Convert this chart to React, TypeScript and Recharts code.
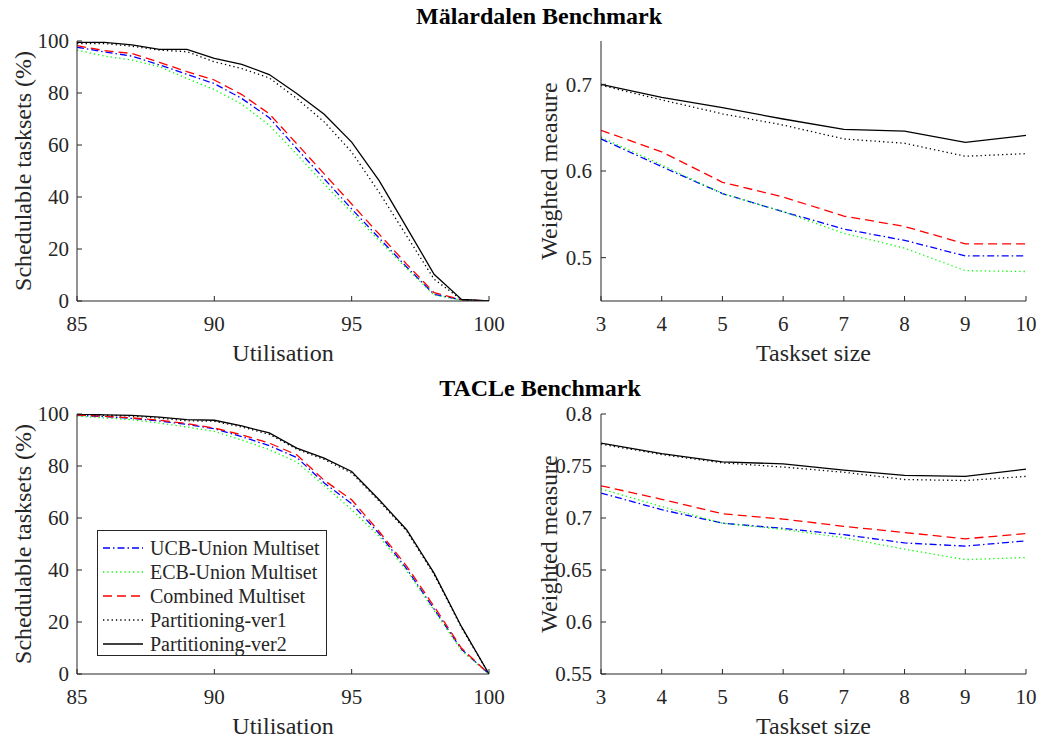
import React from 'react';
import { LineChart, Line, XAxis, YAxis, Legend, Label } from 'recharts';

const FONT = '"Liberation Serif", "Times New Roman", serif';
const INK = '#262626';

// x values
const utilisation = [85, 86, 87, 88, 89, 90, 91, 92, 93, 94, 95, 96, 97, 98, 99, 100];
const tasksetSize = [3, 4, 5, 6, 7, 8, 9, 10];

// Mälardalen - schedulable tasksets (%) vs utilisation
const malUtilUcb = [97.6, 95.8, 94.2, 90.8, 87.2, 83.6, 77.9, 70.5, 58.6, 47, 35.4, 24.2, 13.1, 2.6, 0.4, 0];
const malUtilEcb = [96.5, 94.2, 92.7, 90.1, 85.6, 81.3, 75.7, 67.6, 56.4, 45, 34.1, 23.2, 12.6, 2.3, 0.3, 0];
const malUtilComb = [98.2, 96.3, 95.2, 91.8, 88.2, 85, 79.4, 72, 60.5, 48.9, 37.3, 25.7, 14.2, 3.2, 0.5, 0];
const malUtilPart1 = [99, 99, 98, 96.5, 95.9, 92, 89.4, 85.8, 77.9, 68.9, 57.3, 41.8, 25.1, 8.4, 0.5, 0];
const malUtilPart2 = [99.5, 99.5, 98.5, 96.8, 96.8, 93.3, 91, 87.1, 79.8, 71.8, 61.1, 46.3, 28.3, 10.3, 0.6, 0];

// Mälardalen - weighted measure vs taskset size
const malSizeUcb = [0.637, 0.605, 0.574, 0.553, 0.533, 0.52, 0.502, 0.502];
const malSizeEcb = [0.639, 0.607, 0.574, 0.553, 0.528, 0.511, 0.485, 0.484];
const malSizeComb = [0.647, 0.622, 0.587, 0.57, 0.548, 0.536, 0.516, 0.516];
const malSizePart1 = [0.699, 0.682, 0.666, 0.653, 0.637, 0.632, 0.617, 0.62];
const malSizePart2 = [0.7, 0.685, 0.673, 0.66, 0.648, 0.646, 0.633, 0.641];

// TACLe - schedulable tasksets (%) vs utilisation
const tacUtilUcb = [99.5, 99, 98.3, 97.3, 96, 94.3, 91.3, 87.8, 83.3, 73.5, 65.5, 54, 40.5, 25, 9.5, 0];
const tacUtilEcb = [99.2, 98.5, 97.8, 96.5, 95, 93.3, 90, 86.3, 81.5, 72.5, 63.2, 53, 39.8, 24.5, 9, 0];
const tacUtilComb = [99.6, 99.1, 98.5, 97.6, 96.3, 94.6, 92, 88.8, 84.3, 74.5, 67, 54.8, 41.5, 26, 9.9, 0];
const tacUtilPart1 = [100, 99.5, 99.2, 98.4, 97.4, 97.2, 95, 92.2, 86.5, 82.5, 77.3, 66.5, 55, 38.3, 17.8, 0];
const tacUtilPart2 = [100, 99.7, 99.5, 98.8, 97.8, 97.6, 95.4, 92.7, 86.9, 83, 77.9, 67, 55.5, 38.8, 18.2, 0];

// TACLe - weighted measure vs taskset size
const tacSizeUcb = [0.724, 0.708, 0.695, 0.69, 0.684, 0.676, 0.673, 0.678];
const tacSizeEcb = [0.728, 0.711, 0.695, 0.689, 0.681, 0.67, 0.66, 0.662];
const tacSizeComb = [0.731, 0.718, 0.704, 0.699, 0.692, 0.686, 0.68, 0.685];
const tacSizePart1 = [0.771, 0.761, 0.753, 0.749, 0.744, 0.737, 0.736, 0.74];
const tacSizePart2 = [0.772, 0.762, 0.754, 0.752, 0.746, 0.741, 0.74, 0.747];

const utilTicks = [85, 90, 95, 100];
const pctTicks = [0, 20, 40, 60, 80, 100];
const malMeasureTicks = [0.5, 0.6, 0.7];
const tacMeasureTicks = [0.55, 0.6, 0.65, 0.7, 0.75, 0.8];

const seriesStyles = [
  { key: 'ucb', name: 'UCB-Union Multiset', color: '#0000ff', dash: '7 3 1.5 3' },
  { key: 'ecb', name: 'ECB-Union Multiset', color: '#00ff00', dash: '1.3 3' },
  { key: 'comb', name: 'Combined Multiset', color: '#ff0000', dash: '9 5' },
  { key: 'part1', name: 'Partitioning-ver1', color: '#000000', dash: '1.3 3' },
  { key: 'part2', name: 'Partitioning-ver2', color: '#000000', dash: undefined },
];

const toRows = (xs: number[], ucb: number[], ecb: number[], comb: number[], part1: number[], part2: number[]) =>
  xs.map((x, i) => ({ x, ucb: ucb[i], ecb: ecb[i], comb: comb[i], part1: part1[i], part2: part2[i] }));

const malUtilData = toRows(utilisation, malUtilUcb, malUtilEcb, malUtilComb, malUtilPart1, malUtilPart2);
const malSizeData = toRows(tasksetSize, malSizeUcb, malSizeEcb, malSizeComb, malSizePart1, malSizePart2);
const tacUtilData = toRows(utilisation, tacUtilUcb, tacUtilEcb, tacUtilComb, tacUtilPart1, tacUtilPart2);
const tacSizeData = toRows(tasksetSize, tacSizeUcb, tacSizeEcb, tacSizeComb, tacSizePart1, tacSizePart2);

const tickStyle = { fontSize: 21, fontFamily: FONT, fill: INK };
const labelStyle = { fontSize: 24, fontFamily: FONT, fill: INK, textAnchor: 'middle' as const };

const LegendBox = () => (
  <div style={{ border: `1px solid ${INK}`, background: '#fff', paddingTop: 5, width: 228, height: 119 }}>
    {seriesStyles.map(s => (
      <div key={s.key} style={{ display: 'flex', alignItems: 'center', height: 24 }}>
        <svg width={52} height={10}>
          <line x1={5} x2={45} y1={5} y2={5} stroke={s.color} strokeWidth={1.3} strokeDasharray={s.dash} />
        </svg>
        <span style={{ fontSize: 20, fontFamily: FONT, color: INK, lineHeight: '24px' }}>{s.name}</span>
      </div>
    ))}
  </div>
);

interface PanelProps {
  data: any[];
  xDomain: number[];
  xTicks: number[];
  yDomain: number[];
  yTicks: number[];
  xLabel: string;
  yLabel: string;
  width: number;
  height: number;
  marginTop: number;
  marginRight: number;
  yWidth: number;
  yLabelX: number;
  yTickMargin: number;
  legend?: boolean;
}

const Panel: React.FC<PanelProps> = p => (
  <LineChart
    width={p.width}
    height={p.height}
    data={p.data}
    margin={{ top: p.marginTop, right: p.marginRight, bottom: p.height - p.marginTop - 260 - 60, left: 0 }}
  >
    <XAxis
      dataKey="x"
      type="number"
      domain={p.xDomain}
      ticks={p.xTicks}
      allowDataOverflow
      interval={0}
      height={60}
      tickSize={-5}
      tickMargin={20}
      stroke={INK}
      tick={tickStyle}
    >
      <Label value={p.xLabel} position="insideBottom" offset={0} style={labelStyle} />
    </XAxis>
    <XAxis
      xAxisId="top"
      orientation="top"
      type="number"
      domain={p.xDomain}
      ticks={p.xTicks}
      allowDataOverflow
      interval={0}
      height={0}
      tickSize={-5}
      stroke={INK}
      tick={false}
    />
    <YAxis
      type="number"
      domain={p.yDomain}
      ticks={p.yTicks}
      allowDataOverflow
      interval={0}
      width={p.yWidth}
      tickSize={-5}
      tickMargin={p.yTickMargin}
      stroke={INK}
      tick={tickStyle}
    >
      <Label value={p.yLabel} angle={-90} position="insideLeft" offset={p.yLabelX} style={labelStyle} />
    </YAxis>
    <YAxis
      yAxisId="right"
      orientation="right"
      type="number"
      domain={p.yDomain}
      ticks={p.yTicks}
      allowDataOverflow
      interval={0}
      width={0}
      tickSize={-5}
      stroke={INK}
      tick={false}
    />
    {seriesStyles.map(s => (
      <Line
        key={s.key}
        type="linear"
        dataKey={s.key}
        name={s.name}
        stroke={s.color}
        strokeWidth={1.3}
        strokeDasharray={s.dash}
        dot={false}
        activeDot={false}
        isAnimationActive={false}
      />
    ))}
    {p.legend && (
      <Legend
        layout="vertical"
        align="center"
        verticalAlign="middle"
        content={() => <LegendBox />}
        wrapperStyle={{ left: 97, top: 160, width: 230 }}
      />
    )}
  </LineChart>
);

const titleStyle: React.CSSProperties = {
  position: 'absolute',
  width: 400,
  textAlign: 'center',
  fontFamily: FONT,
  fontWeight: 'bold',
  fontSize: 24,
  lineHeight: '28px',
  color: '#000',
};

export default function App() {
  return (
    <div style={{ position: 'absolute', left: 0, top: 0, width: 1041, height: 738, background: '#fff' }}>
      <div style={{ position: 'absolute', left: 0, top: 0 }}>
        <Panel
          data={malUtilData}
          xDomain={[85, 100]}
          xTicks={utilTicks}
          yDomain={[0, 100]}
          yTicks={pctTicks}
          xLabel="Utilisation"
          yLabel="Schedulable tasksets (%)"
          width={520}
          height={370}
          marginTop={41}
          marginRight={31}
          yWidth={77}
          yLabelX={22}
          yTickMargin={13}
        />
      </div>
      <div style={{ position: 'absolute', left: 520, top: 0 }}>
        <Panel
          data={malSizeData}
          xDomain={[3, 10]}
          xTicks={tasksetSize}
          yDomain={[0.45, 0.75]}
          yTicks={malMeasureTicks}
          xLabel="Taskset size"
          yLabel="Weighted measure"
          width={521}
          height={370}
          marginTop={41}
          marginRight={15}
          yWidth={81}
          yLabelX={28}
          yTickMargin={14}
        />
      </div>
      <div style={{ position: 'absolute', left: 0, top: 370 }}>
        <Panel
          data={tacUtilData}
          xDomain={[85, 100]}
          xTicks={utilTicks}
          yDomain={[0, 100]}
          yTicks={pctTicks}
          xLabel="Utilisation"
          yLabel="Schedulable tasksets (%)"
          width={520}
          height={368}
          marginTop={44}
          marginRight={31}
          yWidth={77}
          yLabelX={22}
          yTickMargin={13}
          legend
        />
      </div>
      <div style={{ position: 'absolute', left: 520, top: 370 }}>
        <Panel
          data={tacSizeData}
          xDomain={[3, 10]}
          xTicks={tasksetSize}
          yDomain={[0.55, 0.8]}
          yTicks={tacMeasureTicks}
          xLabel="Taskset size"
          yLabel="Weighted measure"
          width={521}
          height={368}
          marginTop={44}
          marginRight={15}
          yWidth={81}
          yLabelX={28}
          yTickMargin={14}
        />
      </div>
      <div style={{ ...titleStyle, left: 339, top: 2 }}>Mälardalen Benchmark</div>
      <div style={{ ...titleStyle, left: 340, top: 374 }}>TACLe Benchmark</div>
    </div>
  );
}
